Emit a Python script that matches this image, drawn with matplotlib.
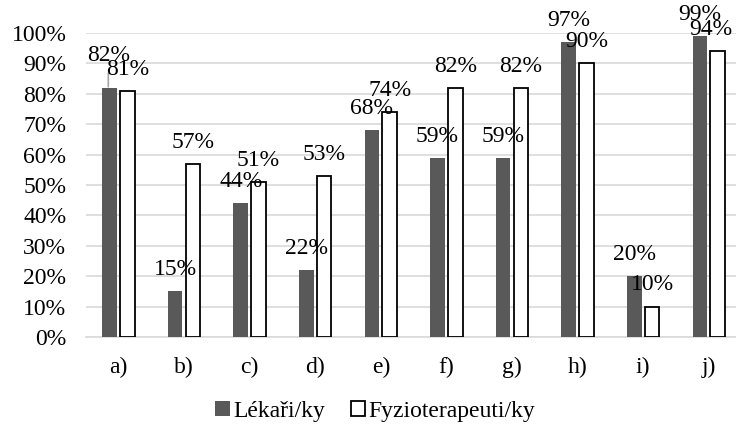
import matplotlib
matplotlib.use("Agg")
import numpy as np
import matplotlib.pyplot as plt
from matplotlib.patches import Patch

plt.rcParams['font.family'] = ['Liberation Serif', 'DejaVu Serif']

categories = ['a)', 'b)', 'c)', 'd)', 'e)', 'f)', 'g)', 'h)', 'i)', 'j)']
lekari = [82, 15, 44, 22, 68, 59, 59, 97, 20, 99]
fyzio = [81, 57, 51, 53, 74, 82, 82, 90, 10, 94]
yticks = [0, 10, 20, 30, 40, 50, 60, 70, 80, 90, 100]

fig = plt.figure(figsize=(7.36, 4.28), dpi=100)
# plot area runs slightly past the right edge of the picture, as in the original
ax = fig.add_axes([0.1165, 0.2126, 0.891, 0.7104])

x = np.arange(len(categories))
off = 0.136
w = 0.222
b1 = ax.bar(x - off, lekari, w, color='#595959', zorder=3)
b2 = ax.bar(x + off, fyzio, w, color='white', edgecolor='black', linewidth=1.3, zorder=3)

fs = 17
for i, (r, v) in enumerate(zip(b1, lekari)):
    cx = r.get_x() + r.get_width() / 2
    if i == 0:
        ax.annotate(f'{v}%', xy=(cx - 0.02, v + 0.3), xytext=(cx - 0.02, v + 7.0),
                    ha='center', va='bottom', fontsize=fs, clip_on=False,
                    arrowprops=dict(arrowstyle='-', color='#a6a6a6', lw=1.2,
                                    shrinkA=3, shrinkB=0), zorder=4)
    else:
        ax.annotate(f'{v}%', xy=(cx, v), xytext=(0, 8), textcoords='offset points',
                    ha='center', va='bottom', fontsize=fs, annotation_clip=False, zorder=4)
for i, (r, v) in enumerate(zip(b2, fyzio)):
    cx = r.get_x() + r.get_width() / 2
    dx = -5 if i == 9 else 0
    ax.annotate(f'{v}%', xy=(cx, v), xytext=(dx, 8), textcoords='offset points',
                ha='center', va='bottom', fontsize=fs, annotation_clip=False, zorder=4)

ax.set_xlim(-0.5, len(categories) - 0.5)
ax.set_ylim(0, 100)
ax.set_yticks(yticks)
ax.set_yticklabels([f'{t}%' for t in yticks], fontsize=fs)
ax.set_xticks(x)
ax.set_xticklabels(categories, fontsize=fs)
ax.tick_params(axis='both', length=0)
ax.tick_params(axis='x', pad=14)
ax.tick_params(axis='y', pad=14)
ax.grid(axis='y', color='#d9d9d9', linewidth=1.2, zorder=0)
for s in ['top', 'right', 'left']:
    ax.spines[s].set_visible(False)
ax.spines['bottom'].set_color('#d9d9d9')
ax.spines['bottom'].set_linewidth(1.2)

handles = [Patch(facecolor='#595959', edgecolor='none', label='Lékaři/ky'),
           Patch(facecolor='white', edgecolor='black', linewidth=1.3, label='Fyzioterapeuti/ky')]
fig.legend(handles=handles, loc='lower center', bbox_to_anchor=(0.51, -0.035), ncol=2,
           frameon=False, fontsize=fs, handlelength=0.6, handleheight=0.6,
           handletextpad=0.15, columnspacing=1.1)

fig.savefig('out.png', dpi=100)
